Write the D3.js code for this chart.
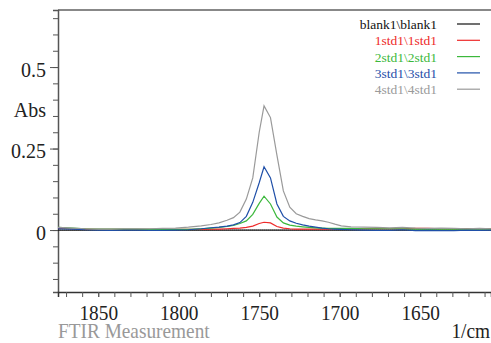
<!DOCTYPE html>
<html lang="en">
<head>
    <meta charset="utf-8">
    <title>FTIR Measurement</title>
    <script src="https://cdn.jsdelivr.net/npm/d3@7"></script>
    <style type="text/css">
        body { margin: 0; background: white; }
        text {
            font-family: "Liberation Serif", "DejaVu Serif", serif;
            fill: #222;
        }
        text.ylab { font-size: 20px; }
        text.xlab { font-size: 21px; }
        text.legend { font-size: 13.5px; }
    </style>
</head>
<body>
<script type="text/javascript">

    // wavenumbers (1/cm)
    var wavenumbers = [1875, 1866, 1858, 1850, 1842, 1834, 1826, 1818, 1810, 1802, 1794, 1786, 1780, 1775,
        1770, 1766, 1762, 1758, 1754, 1750, 1747, 1743, 1739, 1735, 1731, 1727, 1723, 1719, 1715,
        1711, 1707, 1703, 1699, 1693, 1685, 1677, 1669, 1661, 1653, 1645, 1637, 1629, 1621, 1613, 1606];

    var blank1 = [0, 0, 0, 0, 0, 0, 0, 0, 0, 0, 0, 0, 0, 0,
        0, 0, 0, 0, 0, 0, 0, 0, 0, 0, 0, 0, 0, 0, 0,
        0, 0, 0, 0, 0, 0, 0, 0, 0, 0, 0, 0, 0, 0, 0, 0];
    var std1 = [0.006, 0.004, 0.003, 0.002, 0.002, 0.002, 0.002, 0.002, 0.002, 0.002, 0.002, 0.002, 0.003, 0.003,
        0.004, 0.005, 0.006, 0.008, 0.012, 0.02, 0.024, 0.022, 0.011, 0.006, 0.004, 0.003, 0.003, 0.003, 0.003,
        0.003, 0.003, 0.004, 0.004, 0.004, 0.004, 0.004, 0.004, 0.004, 0.005, 0.005, 0.004, 0.004, 0.004, 0.004, 0.004];
    var std2 = [0.008, 0.006, 0.004, 0.003, 0.003, 0.003, 0.003, 0.002, 0.002, 0.002, 0.002, 0.004, 0.006, 0.008,
        0.011, 0.014, 0.02, 0.028, 0.048, 0.082, 0.104, 0.08, 0.04, 0.022, 0.015, 0.012, 0.01, 0.008, 0.007,
        0.006, 0.005, 0.005, 0.005, 0.005, 0.004, 0.004, 0.004, 0.004, 0.003, 0.003, 0.003, 0.003, 0.003, 0.003, 0.003];
    var std3 = [0.004, 0.003, 0.001, 0, -0.001, 0, 0, -0.001, -0.001, 0, 0.001, 0.004, 0.007, 0.009,
        0.012, 0.016, 0.023, 0.042, 0.085, 0.145, 0.194, 0.16, 0.08, 0.042, 0.028, 0.021, 0.016, 0.012, 0.009,
        0.006, 0.004, 0.003, 0.002, 0.001, 0, -0.001, -0.001, 0.001, -0.002, -0.001, -0.002, -0.002, 0, -0.001, 0];
    var std4 = [0.008, 0.006, 0.004, 0.003, 0.003, 0.004, 0.004, 0.004, 0.005, 0.006, 0.009, 0.013, 0.017, 0.022,
        0.03, 0.038, 0.055, 0.095, 0.16, 0.3, 0.381, 0.345, 0.23, 0.12, 0.07, 0.05, 0.042, 0.035, 0.031,
        0.028, 0.024, 0.018, 0.013, 0.01, 0.009, 0.008, 0.007, 0.008, 0.006, 0.005, 0.006, 0.005, 0.004, 0.005, 0.004];

    var seriesNames = ["blank1\\blank1", "1std1\\1std1", "2std1\\2std1", "3std1\\3std1", "4std1\\4std1"];
    var seriesColors = ["#111111", "#ee2a2a", "#3cb83c", "#1f4fa8", "#9a9a9a"];
    var seriesValues = [blank1, std1, std2, std3, std4];

    var yMajorTicks = [0, 0.25, 0.5];
    var xMajorTicks = [1850, 1800, 1750, 1700, 1650];

    var w = 491;
    var h = 343;
    var plotLeft = 58, plotTop = 10, plotRight = 491, plotBottom = 292;
    var squeeze = 0.92; // x labels are a bit condensed

    var xScale = d3.scaleLinear()
        .domain([1875, 1606])
        .range([plotLeft, plotRight]);

    var yScale = d3.scaleLinear()
        .domain([-0.19, 0.675])
        .range([plotBottom, plotTop]);

    //Create SVG element
    var svg = d3.select("body")
        .append("svg")
        .attr("width", w)
        .attr("height", h);

    svg.append("clipPath")
        .attr("id", "plotclip")
        .append("rect")
        .attr("x", plotLeft)
        .attr("y", plotTop)
        .attr("width", plotRight - plotLeft)
        .attr("height", plotBottom - plotTop);

    //Top frame line
    svg.append("line")
        .attr("x1", plotLeft).attr("x2", plotRight)
        .attr("y1", plotTop).attr("y2", plotTop)
        .attr("stroke", "#888")
        .attr("stroke-width", 2);

    //Zero line (dotted)
    svg.append("line")
        .attr("x1", plotLeft).attr("x2", plotRight)
        .attr("y1", yScale(0)).attr("y2", yScale(0))
        .attr("stroke", "#999")
        .attr("stroke-dasharray", "1,1");

    //Y axis
    var yAxisMinor = d3.axisLeft(yScale)
        .tickValues(d3.range(-0.15, 0.66, 0.05))
        .tickSize(5)
        .tickFormat("");
    svg.append("g")
        .attr("transform", "translate(" + plotLeft + ",0)")
        .call(yAxisMinor)
        .call(function (g) {
            g.select(".domain").attr("stroke", "#555").attr("stroke-width", 1.5);
            g.selectAll(".tick line").attr("stroke", "#555");
        });

    var yAxis = d3.axisLeft(yScale)
        .tickValues(yMajorTicks)
        .tickSize(8)
        .tickPadding(4)
        .tickFormat(function (d) { return String(d); });
    svg.append("g")
        .attr("transform", "translate(" + plotLeft + ",0)")
        .call(yAxis)
        .call(function (g) {
            g.select(".domain").remove();
            g.selectAll(".tick line").attr("stroke", "#555");
            g.selectAll(".tick text")
                .attr("class", "ylab")
                .attr("dy", "0.47em")
                .attr("fill", "#222");
        });

    svg.append("text")
        .attr("class", "ylab")
        .attr("x", 46)
        .attr("y", 117)
        .attr("text-anchor", "end")
        .text("Abs");

    //X axis
    var xAxisMinor = d3.axisBottom(xScale)
        .tickValues(d3.range(1870, 1606, -10))
        .tickSize(5)
        .tickFormat("");
    svg.append("g")
        .attr("transform", "translate(0," + plotBottom + ")")
        .call(xAxisMinor)
        .call(function (g) {
            g.select(".domain").attr("stroke", "#333").attr("stroke-width", 1.5);
            g.selectAll(".tick line").attr("stroke", "#555");
        });

    var xAxis = d3.axisBottom(xScale)
        .tickValues(xMajorTicks)
        .tickSize(5)
        .tickPadding(8)
        .tickFormat(d3.format("d"));
    svg.append("g")
        .attr("transform", "translate(0," + plotBottom + ")")
        .call(xAxis)
        .call(function (g) {
            g.select(".domain").remove();
            g.selectAll(".tick line").attr("stroke", "#555");
            g.selectAll(".tick text")
                .attr("class", "xlab")
                .attr("transform", "scale(" + squeeze + ",1)")
                .attr("fill", "#222");
        });
    svg.selectAll("g").attr("font-family", null).attr("font-size", null);

    svg.append("text")
        .attr("class", "xlab")
        .attr("transform", "translate(490,338) scale(" + squeeze + ",1)")
        .attr("text-anchor", "end")
        .text("1/cm");

    svg.append("text")
        .attr("class", "xlab")
        .attr("transform", "translate(58,338) scale(" + squeeze + ",1)")
        .style("fill", "#999")
        .text("FTIR Measurement");

    //Spectra
    var line = d3.line()
        .x(function (d) { return xScale(d[0]); })
        .y(function (d) { return yScale(d[1]); });

    svg.append("g")
        .attr("clip-path", "url(#plotclip)")
        .selectAll("path")
        .data(seriesValues)
        .enter()
        .append("path")
        .attr("fill", "none")
        .attr("stroke", function (d, i) { return seriesColors[i]; })
        .attr("stroke-width", 1.2)
        .attr("d", function (vals) {
            return line(wavenumbers.map(function (wn, j) { return [wn, vals[j]]; }));
        });

    //Legend
    var legend = svg.selectAll("g.legend")
        .data(seriesNames)
        .enter()
        .append("g")
        .attr("class", "legend")
        .attr("transform", function (d, i) { return "translate(0," + (24 + i * 16.3) + ")"; });

    legend.append("text")
        .attr("class", "legend")
        .attr("x", 437)
        .attr("y", 5)
        .attr("text-anchor", "end")
        .style("fill", function (d, i) { return seriesColors[i]; })
        .text(function (d) { return d; });

    legend.append("line")
        .attr("x1", 457).attr("x2", 480)
        .attr("y1", 0).attr("y2", 0)
        .attr("stroke", function (d, i) { return seriesColors[i]; })
        .attr("stroke-width", 1.2);

</script>
</body>
</html>
